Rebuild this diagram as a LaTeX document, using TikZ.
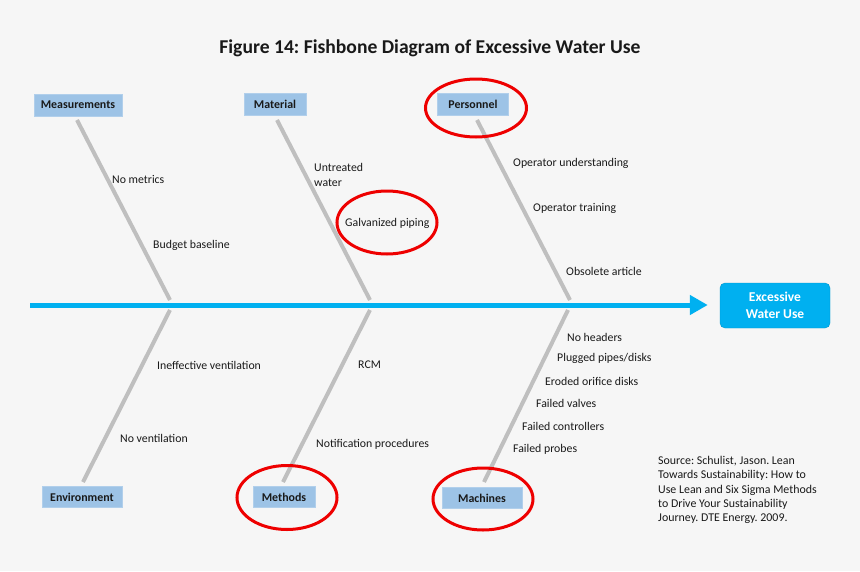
\documentclass[tikz,border=0pt]{standalone}
\usepackage{fontspec}
\setmainfont{Carlito}
\usetikzlibrary{arrows.meta,shapes.geometric}
\frenchspacing
\definecolor{bg}{HTML}{F6F6F6}
\definecolor{catblue}{HTML}{9DC3E6}
\definecolor{spineblue}{HTML}{00B0F0}
\definecolor{bonegray}{HTML}{BFBFBF}
\definecolor{ringred}{HTML}{EE0000}
\tikzset{
  cat/.style={fill=catblue, draw=catblue!80!white, font=\fontsize{11.9}{13}\selectfont\bfseries, text=black!90, minimum height=22pt, inner xsep=4pt},
  cause/.style={anchor=west, font=\fontsize{11.8}{13}\selectfont, text=black!90, inner sep=0pt},
  bone/.style={draw=bonegray, line width=4pt},
  ring/.style={draw=ringred, line width=3pt, ellipse},
}
\begin{document}
\begin{tikzpicture}[x=1pt,y=-1pt]
\fill[bg] (0,0) rectangle (860,571);
\useasboundingbox (0,0) rectangle (860,571);

\node[font=\fontsize{19.6}{22}\selectfont\bfseries, text=black!90] (title) at (430,48) {Figure 14: Fishbone Diagram of Excessive Water Use};

% category boxes
\node[cat, minimum width=88pt] (meas) at (78,105) {Measurements};
\node[cat, minimum width=62pt] (mat) at (275,104) {Material};
\node[cat, minimum width=71pt] (pers) at (473,104) {Personnel};
\node[cat, minimum width=80pt, minimum height=21pt] (env) at (82,497) {Environment};
\node[cat, minimum width=62pt, minimum height=21pt] (meth) at (284,497) {Methods};
\node[cat, minimum width=80pt, minimum height=21pt] (mach) at (482,498) {Machines};

% result box
\node[fill=spineblue, draw=spineblue!85!black, rounded corners=5pt, minimum width=110pt, minimum height=45pt, align=center, text=white, font=\fontsize{13.5}{16.5}\selectfont\bfseries] (res) at (775,305.5) {Excessive\\Water Use};

% spine
\coordinate (tail) at (30,305);
\draw[spineblue, line width=5pt, -{Triangle[length=18pt,width=19pt]}, shorten >=12pt] (tail) -- (res.west |- tail);

% bone points
\coordinate (b1s) at (77,120); \coordinate (b1e) at (170,300);
\coordinate (b2s) at (277,120); \coordinate (b2e) at (370,300);
\coordinate (b3s) at (477,120); \coordinate (b3e) at (570,300);
\coordinate (b4s) at (170,310); \coordinate (b4e) at (83,482);
\coordinate (b5s) at (370,310); \coordinate (b5e) at (283,482);
\coordinate (b6s) at (568,310); \coordinate (b6e) at (484,482);
\draw[bone] (b1s) -- (b1e);
\draw[bone] (b2s) -- (b2e);
\draw[bone] (b3s) -- (b3e);
\draw[bone] (b4s) -- (b4e);
\draw[bone] (b5s) -- (b5e);
\draw[bone] (b6s) -- (b6e);

% causes
\node[cause] (c1) at (112,179) {No metrics};
\node[cause] (c2) at (153,245) {Budget baseline};
\node[cause, align=left, font=\fontsize{11.8}{15}\selectfont] (c3) at (314,174.5) {Untreated\\water};
\node[cause] (c4) at (345,223) {Galvanized piping};
\node[cause] (c5) at (513,163) {Operator understanding};
\node[cause] (c6) at (533,208) {Operator training};
\node[cause] (c7) at (566,271) {Obsolete article};
\node[cause] (c8) at (157,365) {Ineffective ventilation};
\node[cause] (c9) at (120,438) {No ventilation};
\node[cause] (c10) at (358,365) {RCM};
\node[cause] (c11) at (316,444) {Notification procedures};
\node[cause] (c12) at (567,337) {No headers};
\node[cause] (c13) at (557,358) {Plugged pipes/disks};
\node[cause] (c14) at (545,381) {Eroded orifice disks};
\node[cause] (c15) at (536,403) {Failed valves};
\node[cause] (c16) at (522,426) {Failed controllers};
\node[cause] (c17) at (513,449) {Failed probes};

\node[anchor=north west, align=left, inner sep=0pt, font=\fontsize{11.9}{14.3}\selectfont, text=black!90] (src) at (658,456) {Source: Schulist, Jason. Lean\\Towards Sustainability: How to\\Use Lean and Six Sigma Methods\\to Drive Your Sustainability\\Journey. DTE Energy. 2009.};

% red rings
\node[ring, minimum width=100pt, minimum height=63pt] (r1) at (387,222.5) {};
\node[ring, minimum width=101pt, minimum height=58pt] (r2) at (476,108) {};
\node[ring, minimum width=100pt, minimum height=64pt] (r3) at (287,497.5) {};
\node[ring, minimum width=100pt, minimum height=62pt] (r4) at (483,499) {};
\end{tikzpicture}
\end{document}
